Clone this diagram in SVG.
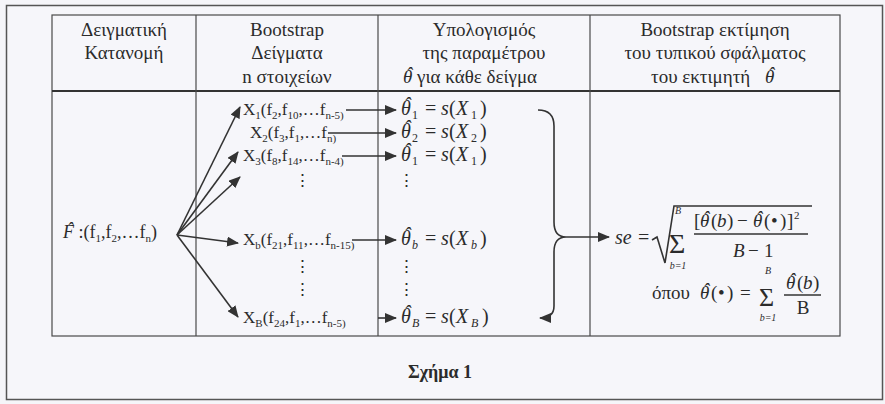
<svg xmlns="http://www.w3.org/2000/svg" width="885" height="404" viewBox="0 0 885 404">
<style>
text{font-family:"Liberation Serif","DejaVu Serif","Times New Roman",serif;fill:#2b2b2b;font-size:17px}
.h{text-anchor:middle}
.hd{font-size:19px}
.i{font-style:italic}
.s{font-size:11px}
.m{font-size:20px}
.ms{font-size:12px}
.sm{font-size:10px;font-style:italic}
.ln{stroke:#333;stroke-width:1.6;fill:none}
.grid{stroke:#4a4a4a;stroke-width:1.2;fill:none}
</style>
<defs>
<marker id="ah" markerWidth="12" markerHeight="10" refX="11" refY="5" orient="auto" markerUnits="userSpaceOnUse">
<path d="M0,0 L12,5 L0,10 Z" fill="#333"/>
</marker>
</defs>
<rect x="0" y="0" width="885" height="404" fill="#f5f5f9"/>
<rect x="6.5" y="5.5" width="876" height="394" fill="#f6f6fa" stroke="#555" stroke-width="1.5"/>
<g id="table">
<rect x="52" y="15" width="788" height="321" class="grid"/>
<line x1="52" y1="91" x2="840" y2="91" stroke="#333" stroke-width="2"/>
<line x1="196" y1="15" x2="196" y2="336" class="grid"/>
<line x1="378" y1="15" x2="378" y2="336" class="grid"/>
<line x1="590" y1="15" x2="590" y2="336" class="grid"/>
</g>
<g id="header1">
<text class="h hd" x="124" y="36">Δειγματική</text>
<text class="h hd" x="124" y="59">Κατανομή</text>
</g>
<g id="header2">
<text class="h hd" x="287" y="36">Bootstrap</text>
<text class="h hd" x="287" y="59">Δείγματα</text>
<text class="h hd" x="287" y="83">n στοιχείων</text>
</g>
<g id="header3">
<text class="h hd" x="484" y="36">Υπολογισμός</text>
<text class="h hd" x="484" y="59">της παραμέτρου</text>
<text class="hd" x="403" y="83"><tspan class="i">θ</tspan> για κάθε δείγμα<tspan class="i" x="406" y="80">ˆ</tspan></text>
</g>
<g id="header4">
<text class="h hd" x="715" y="36">Bootstrap εκτίμηση</text>
<text class="h hd" x="715" y="59">του τυπικού σφάλματος</text>
<text class="hd" x="651" y="83">του εκτιμητή<tspan class="i" x="765">θ</tspan><tspan class="i" x="768" y="80">ˆ</tspan></text>
</g>
<g id="F">
<text x="63" y="238" style="font-size:18px"><tspan class="i">F</tspan> :(f<tspan class="s" dy="4">1</tspan><tspan dy="-4">,f</tspan><tspan class="s" dy="4">2</tspan><tspan dy="-4">,…f</tspan><tspan class="s" dy="4">n</tspan><tspan dy="-4">)</tspan><tspan class="i" x="67" y="235">ˆ</tspan></text>
</g>
<g id="X1">
<text x="243" y="115">X<tspan class="s" dy="4">1</tspan><tspan dy="-4">(f</tspan><tspan class="s" dy="4">2</tspan><tspan dy="-4">,f</tspan><tspan class="s" dy="4">10</tspan><tspan dy="-4">,…f</tspan><tspan class="s" dy="4">n-5)</tspan></text>
</g>
<g id="X2">
<text x="250" y="138">X<tspan class="s" dy="4">2</tspan><tspan dy="-4">(f</tspan><tspan class="s" dy="4">3</tspan><tspan dy="-4">,f</tspan><tspan class="s" dy="4">1</tspan><tspan dy="-4">,…f</tspan><tspan class="s" dy="4">n)</tspan></text>
</g>
<g id="X3">
<text x="243" y="161">X<tspan class="s" dy="4">3</tspan><tspan dy="-4">(f</tspan><tspan class="s" dy="4">8</tspan><tspan dy="-4">,f</tspan><tspan class="s" dy="4">14</tspan><tspan dy="-4">,…f</tspan><tspan class="s" dy="4">n-4)</tspan></text>
<text class="h" x="302" y="186">⋮</text>
</g>
<g id="Xb">
<text x="243" y="245">X<tspan class="s" dy="4">b</tspan><tspan dy="-4">(f</tspan><tspan class="s" dy="4">21</tspan><tspan dy="-4">,f</tspan><tspan class="s" dy="4">11</tspan><tspan dy="-4">,…f</tspan><tspan class="s" dy="4">n-15)</tspan></text>
<text class="h" x="302" y="272">⋮</text>
<text class="h" x="302" y="295">⋮</text>
</g>
<g id="XB">
<text x="243" y="323">X<tspan class="s" dy="4">B</tspan><tspan dy="-4">(f</tspan><tspan class="s" dy="4">24</tspan><tspan dy="-4">,f</tspan><tspan class="s" dy="4">1</tspan><tspan dy="-4">,…f</tspan><tspan class="s" dy="4">n-5)</tspan></text>
</g>
<g id="T1">
<text class="m" y="115"><tspan class="i" x="401">θ</tspan><tspan class="ms" x="412" dy="4">1</tspan><tspan x="425" dy="-4">=</tspan><tspan class="i" x="441">s</tspan><tspan x="449">(</tspan><tspan class="i" x="456">X</tspan><tspan class="ms" x="471" dy="4">1</tspan><tspan x="480" dy="-4">)</tspan><tspan class="i" x="404" y="112">ˆ</tspan></text>
</g>
<g id="T2">
<text class="m" y="138"><tspan class="i" x="401">θ</tspan><tspan class="ms" x="412" dy="4">2</tspan><tspan x="425" dy="-4">=</tspan><tspan class="i" x="441">s</tspan><tspan x="449">(</tspan><tspan class="i" x="456">X</tspan><tspan class="ms" x="471" dy="4">2</tspan><tspan x="480" dy="-4">)</tspan><tspan class="i" x="404" y="135">ˆ</tspan></text>
</g>
<g id="T3">
<text class="m" y="161"><tspan class="i" x="401">θ</tspan><tspan class="ms" x="412" dy="4">1</tspan><tspan x="425" dy="-4">=</tspan><tspan class="i" x="441">s</tspan><tspan x="449">(</tspan><tspan class="i" x="456">X</tspan><tspan class="ms" x="471" dy="4">1</tspan><tspan x="480" dy="-4">)</tspan><tspan class="i" x="404" y="158">ˆ</tspan></text>
<text class="h" x="406" y="186">⋮</text>
</g>
<g id="Tb">
<text class="m" y="245"><tspan class="i" x="401">θ</tspan><tspan class="ms i" x="412" dy="4">b</tspan><tspan x="425" dy="-4">=</tspan><tspan class="i" x="441">s</tspan><tspan x="449">(</tspan><tspan class="i" x="456">X</tspan><tspan class="ms i" x="471" dy="4">b</tspan><tspan x="480" dy="-4">)</tspan><tspan class="i" x="404" y="242">ˆ</tspan></text>
<text class="h" x="406" y="272">⋮</text>
<text class="h" x="406" y="295">⋮</text>
</g>
<g id="TB">
<text class="m" y="323"><tspan class="i" x="401">θ</tspan><tspan class="ms i" x="412" dy="4">B</tspan><tspan x="425" dy="-4">=</tspan><tspan class="i" x="441">s</tspan><tspan x="449">(</tspan><tspan class="i" x="456">X</tspan><tspan class="ms i" x="471" dy="4">B</tspan><tspan x="482" dy="-4">)</tspan><tspan class="i" x="404" y="320">ˆ</tspan></text>
</g>
<g id="formula">
<text class="m" x="615" y="244"><tspan class="i">se</tspan><tspan x="638">=</tspan></text>
<path d="M652,240 L657,237 L665,263 L674,206 L812,206" class="ln" stroke-width="1.3"/>
<text x="669" y="253" style="font-size:28px">Σ</text>
<text class="sm" x="678" y="214" text-anchor="middle">B</text>
<text class="sm" x="678" y="269" text-anchor="middle">b=1</text>
<text style="font-size:19px" y="227"><tspan x="694">[</tspan><tspan class="i" x="700">θ</tspan><tspan x="711">(</tspan><tspan class="i" x="717">b</tspan><tspan x="727">)</tspan><tspan x="737">−</tspan><tspan class="i" x="753">θ</tspan><tspan x="764">(</tspan><tspan x="771">•</tspan><tspan x="780">)</tspan><tspan x="787">]</tspan><tspan class="s" x="794" dy="-8">2</tspan><tspan class="i" x="703" y="224">ˆ</tspan><tspan class="i" x="756">ˆ</tspan></text>
<line x1="694" y1="234" x2="808" y2="234" class="ln" stroke-width="1.2"/>
<text style="font-size:19px" y="257"><tspan class="i" x="733">B</tspan><tspan x="748">−</tspan><tspan x="764">1</tspan></text>
<text style="font-size:19px" y="299"><tspan x="652">όπου</tspan><tspan class="i" x="700">θ</tspan><tspan x="711">(</tspan><tspan x="718">•</tspan><tspan x="727">)</tspan><tspan x="740">=</tspan><tspan class="i" x="703" y="296">ˆ</tspan></text>
<text x="759" y="306" style="font-size:26px">Σ</text>
<text class="sm" x="768" y="274" text-anchor="middle">B</text>
<text class="sm" x="768" y="321" text-anchor="middle">b=1</text>
<text style="font-size:19px" y="289"><tspan class="i" x="786">θ</tspan><tspan x="797">(</tspan><tspan class="i" x="803">b</tspan><tspan x="813">)</tspan><tspan class="i" x="789" y="286">ˆ</tspan></text>
<line x1="784" y1="295" x2="821" y2="295" class="ln" stroke-width="1.2"/>
<text class="h" x="803" y="314" style="font-size:19px">B</text>
</g>
<g id="caption">
<text class="h" x="440" y="378" style="font-weight:bold;font-size:18px">Σχήμα 1</text>
</g>
<g id="connectors">
<line x1="177" y1="235" x2="240" y2="107" class="ln" marker-end="url(#ah)"/>
<line x1="177" y1="235" x2="238" y2="152" class="ln" marker-end="url(#ah)"/>
<line x1="177" y1="235" x2="240" y2="177" class="ln" marker-end="url(#ah)"/>
<line x1="177" y1="235" x2="238" y2="243" class="ln" marker-end="url(#ah)"/>
<line x1="177" y1="235" x2="238" y2="317" class="ln" marker-end="url(#ah)"/>
<line x1="346" y1="110" x2="396" y2="110" class="ln" marker-end="url(#ah)"/>
<line x1="328" y1="133" x2="396" y2="133" class="ln" marker-end="url(#ah)"/>
<line x1="342" y1="156" x2="396" y2="156" class="ln" marker-end="url(#ah)"/>
<line x1="352" y1="240" x2="396" y2="240" class="ln" marker-end="url(#ah)"/>
<line x1="378" y1="318" x2="396" y2="318" class="ln" marker-end="url(#ah)"/>
<path d="M538,110 Q554,110 554,126 L554,222 Q554,237 566,237 Q554,237 554,252 L554,306 Q554,318 540,318" class="ln" marker-end="url(#ah)"/>
<line x1="566" y1="237" x2="609" y2="237" class="ln" marker-end="url(#ah)"/>
</g>
</svg>
